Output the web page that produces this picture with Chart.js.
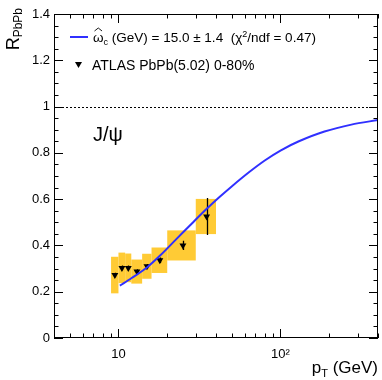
<!DOCTYPE html>
<html>
<head>
<meta charset="utf-8">
<script src="https://cdn.jsdelivr.net/npm/chart.js@4.4.0/dist/chart.umd.min.js"></script>
<style>
  html, body { margin: 0; padding: 0; background: #fff; }
</style>
</head>
<body>
<canvas id="raa" width="382" height="380"></canvas>
<script>
// ATLAS PbPb(5.02) 0-80%, J/psi
const binLow  = [9, 10, 11, 12, 14, 16, 20, 30];
const binHigh = [10, 11, 12, 14, 16, 20, 30, 40];
const ptMean  = [9.5, 10.5, 11.5, 13, 15, 18, 25, 35];
const raa     = [0.272, 0.303, 0.303, 0.287, 0.310, 0.336, 0.400, 0.525];
const statErr = [0.010, 0.010, 0.010, 0.010, 0.010, 0.012, 0.020, 0.080];
const sysErr  = [0.079, 0.066, 0.062, 0.052, 0.054, 0.055, 0.065, 0.076];

// fitted curve, omega_c = 15.0 GeV
const fitPt  = [10.2, 12, 15, 18, 22.6, 28.6, 34.8, 41.7, 50, 63.6, 80, 100, 130, 187, 274, 400];
const fitRaa = [0.226, 0.258, 0.305, 0.355, 0.425, 0.497, 0.556, 0.607, 0.655, 0.715, 0.767, 0.810, 0.850, 0.892, 0.922, 0.942];

// axes
const yTicks = [0, 0.2, 0.4, 0.6, 0.8, 1, 1.2, 1.4];
const xMajor = [10, 100];
const xTickLabels = ['10', '10²'];
const xMinor = [5, 6, 7, 8, 9, 20, 30, 40, 50, 60, 70, 80, 90, 200, 300, 400];

const FONT = '"Liberation Sans", Arial, Helvetica, sans-serif';
const BOX = '#ffcb35';
const BLUE = '#3030ff';

// draw a run of text pieces: [text, size, dy]
function drawRich(ctx, x, y, parts) {
  parts.forEach(([t, size, dy]) => {
    ctx.font = size + 'px ' + FONT;
    ctx.fillText(t, x, y + dy);
    x += ctx.measureText(t).width;
  });
  return x;
}
function richWidth(ctx, parts) {
  let w = 0;
  parts.forEach(([t, size]) => { ctx.font = size + 'px ' + FONT; w += ctx.measureText(t).width; });
  return w;
}

const decorations = {
  id: 'decorations',
  beforeDatasetsDraw(chart) {
    const { ctx, chartArea: a, scales: { x, y } } = chart;
    ctx.save();
    // systematic uncertainty boxes
    ctx.fillStyle = BOX;
    binLow.forEach((lo, i) => {
      const x0 = x.getPixelForValue(lo), x1 = x.getPixelForValue(binHigh[i]);
      const y0 = y.getPixelForValue(raa[i] + sysErr[i]);
      const y1 = y.getPixelForValue(raa[i] - sysErr[i]);
      ctx.fillRect(x0, y0, x1 - x0, y1 - y0);
    });
    // statistical error bars
    ctx.strokeStyle = '#000';
    ctx.lineWidth = 1.3;
    ctx.beginPath();
    ptMean.forEach((pt, i) => {
      const px = Math.round(x.getPixelForValue(pt)) + 0.5;
      ctx.moveTo(px, y.getPixelForValue(raa[i] + statErr[i]));
      ctx.lineTo(px, y.getPixelForValue(raa[i] - statErr[i]));
    });
    ctx.stroke();
    // R = 1 reference line
    const py = Math.round(y.getPixelForValue(1)) + 0.5;
    ctx.lineWidth = 1;
    ctx.setLineDash([2, 2]);
    ctx.beginPath();
    ctx.moveTo(a.left, py);
    ctx.lineTo(a.right, py);
    ctx.stroke();
    ctx.restore();
  },
  afterDraw(chart) {
    const { ctx, chartArea: a, scales: { x, y } } = chart;
    ctx.save();
    ctx.strokeStyle = '#000';
    ctx.fillStyle = '#000';
    ctx.lineWidth = 1;

    // frame
    ctx.strokeRect(a.left + 0.5, a.top + 0.5, a.right - a.left - 1, a.bottom - a.top - 1);

    // inward ticks on all four sides
    ctx.beginPath();
    const hTick = (v, len) => {
      const py = Math.round(y.getPixelForValue(v)) + 0.5;
      ctx.moveTo(a.left, py); ctx.lineTo(a.left + len, py);
      ctx.moveTo(a.right, py); ctx.lineTo(a.right - len, py);
    };
    const vTick = (v, len) => {
      const px = Math.round(x.getPixelForValue(v)) + 0.5;
      ctx.moveTo(px, a.bottom); ctx.lineTo(px, a.bottom - len);
      ctx.moveTo(px, a.top); ctx.lineTo(px, a.top + len);
    };
    yTicks.forEach(v => hTick(v, 9));
    for (let i = 0; i < yTicks.length - 1; i++) {
      for (let k = 1; k < 4; k++) hTick(yTicks[i] + k * 0.05, 4.5);
    }
    xMajor.forEach(v => vTick(v, 9));
    xMinor.forEach(v => vTick(v, 4.5));
    ctx.stroke();

    // legend
    ctx.textBaseline = 'alphabetic';
    ctx.strokeStyle = BLUE;
    ctx.lineWidth = 2;
    ctx.beginPath();
    ctx.moveTo(70, 37); ctx.lineTo(88, 37);
    ctx.stroke();
    const lx = 93, ly = 42, fs = 13.5;
    ctx.font = fs + 'px ' + FONT;
    const ow = ctx.measureText('\u03C9').width;
    // hat over omega
    ctx.strokeStyle = '#000';
    ctx.lineWidth = 0.9;
    ctx.beginPath();
    ctx.moveTo(lx + 1.5, ly - 11); ctx.lineTo(lx + ow / 2, ly - 14); ctx.lineTo(lx + ow - 1.5, ly - 11);
    ctx.stroke();
    drawRich(ctx, lx, ly, [
      ['\u03C9', fs, 0], ['c', 9, 3], [' (GeV) = 15.0 \u00B1 1.4  (\u03C7', fs, 0],
      ['2', 9, -5], ['/ndf = 0.47)', fs, 0]
    ]);
    // triangle marker in legend
    ctx.beginPath();
    ctx.moveTo(75, 62); ctx.lineTo(82, 62); ctx.lineTo(78.5, 68);
    ctx.closePath();
    ctx.fill();
    drawRich(ctx, 92, 70, [['ATLAS PbPb(5.02) 0-80%', 14, 0]]);

    // particle label
    drawRich(ctx, 93, 141, [['J/\u03C8', 20, 0]]);

    // x title, right aligned
    const xt = [['p', 17, 0], ['T', 11, 4], [' (GeV)', 17, 0]];
    drawRich(ctx, a.right - richWidth(ctx, xt), 373, xt);

    // y title, rotated
    const yt = [['R', 18, 0], ['PbPb', 12, 3]];
    ctx.translate(19, 8 + richWidth(ctx, yt));
    ctx.rotate(-Math.PI / 2);
    drawRich(ctx, 0, 0, yt);
    ctx.restore();
  }
};

new Chart(document.getElementById('raa'), {
  data: {
    datasets: [
      {
        type: 'line',
        label: 'fit',
        data: fitPt.map((p, i) => ({ x: p, y: fitRaa[i] })),
        borderColor: BLUE,
        borderWidth: 2,
        pointRadius: 0,
        tension: 0.3,
        order: 0
      },
      {
        type: 'line',
        label: 'ATLAS',
        data: ptMean.map((p, i) => ({ x: p, y: raa[i] })),
        showLine: false,
        pointStyle: 'triangle',
        rotation: 180,
        pointRadius: 4,
        backgroundColor: '#000',
        borderColor: '#000',
        borderWidth: 0,
        order: 1
      }
    ]
  },
  options: {
    responsive: false,
    animation: false,
    devicePixelRatio: 1,
    layout: { padding: { top: 14, right: 1, left: 0, bottom: 0 } },
    plugins: { legend: { display: false }, tooltip: { enabled: false } },
    scales: {
      x: {
        type: 'logarithmic',
        min: 4,
        max: 400,
        grid: { display: false, drawTicks: false },
        border: { display: false },
        afterBuildTicks: s => { s.ticks = xMajor.map(v => ({ value: v })); },
        afterFit: s => { s.height = 42; },
        ticks: {
          autoSkip: false,
          maxRotation: 0,
          padding: 9,
          color: '#000',
          font: { family: FONT, size: 13 },
          callback: (v, i) => xTickLabels[i]
        }
      },
      y: {
        min: 0,
        max: 1.4,
        grid: { display: false, drawTicks: false },
        border: { display: false },
        afterBuildTicks: s => { s.ticks = yTicks.map(v => ({ value: v })); },
        afterFit: s => { s.width = 54; },
        ticks: {
          padding: 4,
          color: '#000',
          font: { family: FONT, size: 13 },
          callback: v => String(+v.toFixed(1))
        }
      }
    }
  },
  plugins: [decorations]
});
</script>
</body>
</html>
